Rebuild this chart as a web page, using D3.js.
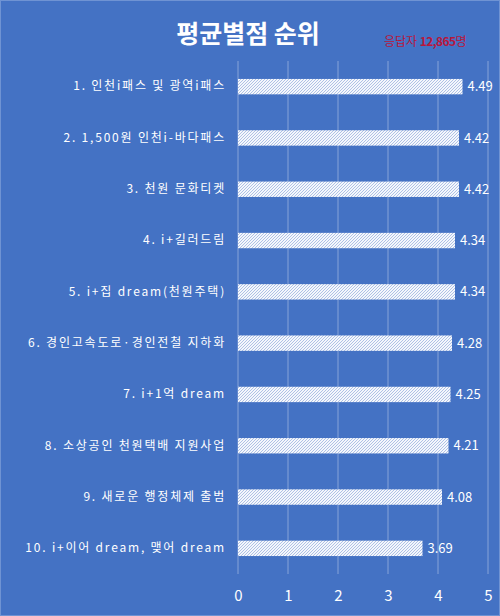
<!DOCTYPE html>
<html>
<head>
<meta charset="utf-8">
<script src="https://cdn.jsdelivr.net/npm/d3@7"></script>
<style>
  html, body { margin: 0; padding: 0; background: #4472c4; }
  svg { display: block; }
</style>
</head>
<body>
<div class="chart"></div>
<script>
// data
const categories = [
  '1. 인천i패스 및 광역i패스',
  '2. 1,500원 인천i-바다패스',
  '3. 천원 문화티켓',
  '4. i+길러드림',
  '5. i+집 dream(천원주택)',
  '6. 경인고속도로·경인전철 지하화',
  '7. i+1억 dream',
  '8. 소상공인 천원택배 지원사업',
  '9. 새로운 행정체제 출범',
  '10. i+이어 dream, 맺어 dream'
]
const scores = [4.49, 4.42, 4.42, 4.34, 4.34, 4.28, 4.25, 4.21, 4.08, 3.69]
const xTicks = [0, 1, 2, 3, 4, 5]
const titleText = '평균별점 순위'
const respondents = '12,865'

const fullWidth = 500
const fullHeight = 616
const margin = {top: 61, right: 12, bottom: 42, left: 238}
const width = fullWidth - margin.left - margin.right
const height = fullHeight - margin.top - margin.bottom
const font = "'Noto Sans CJK KR', 'Noto Sans', sans-serif"

const svg = d3.select('.chart')
  .append('svg')
    .attr('width', fullWidth)
    .attr('height', fullHeight)

svg.append('rect')
  .attr('x', 0.5).attr('y', 0.5)
  .attr('width', fullWidth - 1).attr('height', fullHeight - 1)
  .style('fill', '#4472c4')
  .style('stroke', '#6f93d3')

// fine diagonal hatch used by the bars
const pat = svg.append('defs').append('pattern')
  .attr('id', 'hatch')
  .attr('patternUnits', 'userSpaceOnUse')
  .attr('width', 3).attr('height', 3)
pat.append('rect').attr('width', 3).attr('height', 3).style('fill', '#f4f7fc')
pat.append('path')
  .attr('d', 'M-1,1 l2,-2 M0,3 l3,-3 M2,4 l2,-2')
  .style('stroke', '#9db4e0')
  .style('stroke-width', 0.8)

const g = svg.append('g')
  .attr('transform', `translate(${margin.left}, ${margin.top})`)

const xScale = d3.scaleLinear().domain([0, 5]).range([0, width])
const yScale = d3.scaleBand().domain(categories).range([0, height]).paddingInner(0.7).paddingOuter(0.35)

// gridlines
g.append('g')
  .selectAll('line')
  .data(xTicks)
  .join('line')
    .attr('x1', d => xScale(d)).attr('x2', d => xScale(d))
    .attr('y1', 0).attr('y2', height)
    .style('stroke', '#86a3d8')
    .style('stroke-width', 1)

// x axis labels
const xAxis = d3.axisBottom(xScale).tickValues(xTicks).tickFormat(d3.format('d')).tickSize(0).tickPadding(16)
const xg = g.append('g')
  .attr('transform', `translate(0, ${height})`)
  .call(xAxis)
xg.select('.domain').remove()
xg.selectAll('text')
  .style('fill', '#ffffff')
  .style('font-family', font)
  .style('font-size', '15px')

// category labels
const yAxis = d3.axisLeft(yScale).tickSize(0).tickPadding(12)
const yg = g.append('g').call(yAxis)
yg.select('.domain').remove()
yg.selectAll('text')
  .style('fill', '#ffffff')
  .style('font-family', font)
  .style('font-size', '12px')
  .style('letter-spacing', '1.8px')

// bars
g.append('g')
  .selectAll('rect')
  .data(scores)
  .join('rect')
    .attr('x', 0)
    .attr('y', (d, i) => yScale(categories[i]))
    .attr('width', d => xScale(d))
    .attr('height', yScale.bandwidth())
    .style('fill', 'url(#hatch)')

// value labels
g.append('g')
  .selectAll('text')
  .data(scores)
  .join('text')
    .attr('x', d => xScale(d) + 5)
    .attr('y', (d, i) => yScale(categories[i]) + yScale.bandwidth() / 2)
    .attr('dy', '0.35em')
    .style('fill', '#ffffff')
    .style('font-family', font)
    .style('font-size', '13px')
    .text(d => d.toFixed(2))

// title
svg.append('text')
  .attr('x', 248).attr('y', 43)
  .attr('text-anchor', 'middle')
  .style('fill', '#ffffff')
  .style('font-family', font)
  .style('font-size', '25px')
  .style('font-weight', 'bold')
  .text(titleText)

const sub = svg.append('text')
  .attr('x', 384).attr('y', 46)
  .style('fill', '#b8163c')
  .style('font-family', font)
  .style('font-size', '12px')
sub.append('tspan').text('응답자 ')
sub.append('tspan').style('font-weight', 'bold').style('letter-spacing', '-0.6px').text(respondents)
sub.append('tspan').text('명')
</script>
</body>
</html>
